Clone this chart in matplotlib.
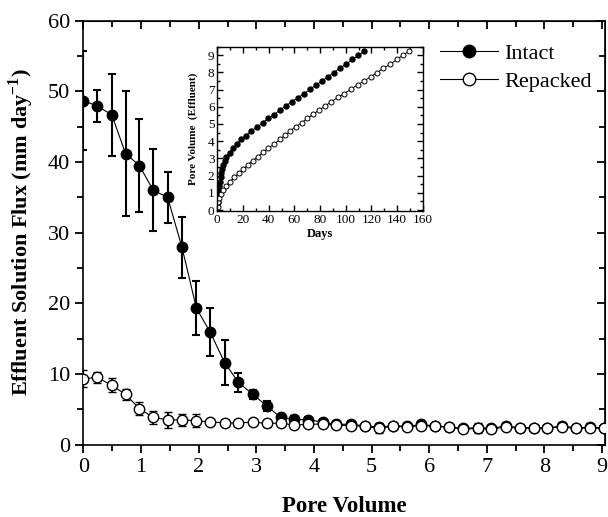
import matplotlib
matplotlib.use("Agg")
import matplotlib.pyplot as plt
from matplotlib.lines import Line2D
from matplotlib.ticker import MultipleLocator

plt.rcParams['font.family'] = ['Liberation Serif', 'DejaVu Serif']
plt.rcParams['mathtext.fontset'] = 'custom'
plt.rcParams['mathtext.rm'] = 'Liberation Serif'
plt.rcParams['mathtext.bf'] = 'Liberation Serif:bold'

# main panel: flux vs pore volume
pore_volume = [0.0, 0.24, 0.49, 0.73, 0.97, 1.21, 1.46, 1.71, 1.96, 2.2, 2.45, 2.69, 2.94,
               3.18, 3.42, 3.66, 3.9, 4.15, 4.39, 4.64, 4.88, 5.13, 5.37, 5.62, 5.86, 6.1,
               6.35, 6.59, 6.84, 7.08, 7.33, 7.57, 7.81, 8.05, 8.3, 8.54, 8.79, 9.03]
intact_flux = [48.7, 47.9, 46.7, 41.2, 39.5, 36.0, 35.0, 27.9, 19.3, 15.9, 11.6, 8.8, 7.1,
               5.5, 3.85, 3.6, 3.5, 3.2, 2.85, 2.9, 2.65, 2.5, 2.65, 2.6, 2.85, 2.65,
               2.5, 2.3, 2.4, 2.3, 2.65, 2.4, 2.4, 2.4, 2.6, 2.4, 2.45, 2.4]
intact_err = [7.0, 2.3, 5.8, 8.9, 6.6, 5.8, 3.6, 4.3, 3.8, 3.4, 3.2, 1.3, 0.7,
              0.7, 0.4, 0.4, 0.4, 0.4, 0.3, 0.4, 0.4, 0.3, 0.3, 0.4, 0.3, 0.4,
              0.3, 0.4, 0.3, 0.3, 0.4, 0.4, 0.4, 0.3, 0.4, 0.4, 0.4, 0.4]
repacked_flux = [9.35, 9.5, 8.4, 7.1, 5.1, 3.85, 3.5, 3.5, 3.4, 3.2, 3.1, 3.05, 3.2,
                 3.0, 3.05, 2.75, 2.9, 2.9, 2.75, 2.7, 2.6, 2.3, 2.6, 2.5, 2.7, 2.6,
                 2.45, 2.2, 2.3, 2.2, 2.5, 2.3, 2.35, 2.35, 2.5, 2.3, 2.35, 2.3]
repacked_err = [1.2, 0.8, 1.0, 0.8, 0.9, 0.9, 1.1, 0.8, 0.9, 0.4, 0.4, 0.4, 0.4,
                0.5, 0.4, 0.3, 0.3, 0.3, 0.3, 0.3, 0.3, 0.7, 0.3, 0.3, 0.3, 0.3,
                0.3, 0.3, 0.7, 0.3, 0.3, 0.3, 0.3, 0.3, 0.3, 0.3, 0.3, 0.3]

# inset: cumulative pore volume vs days
intact_days = [0.0, 0.3, 0.5, 0.8, 1.3, 1.6, 2.1, 2.6, 3.1, 3.9, 4.7, 6.0, 6.8, 9.6, 12.2,
               15.1, 18.4, 22.1, 26.2, 30.6, 35.3, 39.7, 44.4, 48.8, 53.2, 57.9, 62.6,
               67.8, 72.5, 77.1, 81.8, 86.0, 90.9, 95.6, 100.5, 105.2, 109.9, 114.5]
intact_pv = [0.25, 0.45, 0.68, 0.93, 1.16, 1.39, 1.65, 1.9, 2.13, 2.38, 2.61, 2.86, 3.1,
             3.33, 3.58, 3.83, 4.10, 4.32, 4.59, 4.80, 5.07, 5.32, 5.55, 5.81, 6.04, 6.29,
             6.52, 6.77, 7.03, 7.28, 7.51, 7.74, 7.99, 8.26, 8.48, 8.75, 9.0, 9.23]
repacked_days = [0.3, 0.8, 1.6, 2.9, 4.7, 7.0, 9.9, 13.2, 16.6, 20.0, 23.6, 27.5, 31.4,
                 35.6, 39.7, 44.4, 48.6, 52.7, 56.9, 61.0, 65.7, 70.1, 74.8, 79.2, 83.9,
                 88.6, 93.8, 98.9, 104.1, 109.3, 114.3, 119.5, 124.4, 129.3, 134.8,
                 139.7, 144.7, 149.3]
repacked_pv = [0.19, 0.45, 0.68, 0.91, 1.16, 1.39, 1.65, 1.90, 2.13, 2.36, 2.61, 2.86,
               3.10, 3.35, 3.60, 3.83, 4.10, 4.34, 4.59, 4.84, 5.07, 5.32, 5.57, 5.81,
               6.04, 6.29, 6.54, 6.77, 7.03, 7.28, 7.51, 7.74, 7.99, 8.24, 8.48, 8.75,
               9.0, 9.23]

fig = plt.figure(figsize=(6.08, 5.17), dpi=100)
ax = fig.add_axes([0.1373, 0.140, 0.8577, 0.820])

ax.errorbar(pore_volume, intact_flux, yerr=intact_err, color='black', lw=0.8,
            marker='o', ms=7.5, mfc='black', mec='black', elinewidth=1.5,
            capsize=3, capthick=1.5, zorder=3)
ax.errorbar(pore_volume, repacked_flux, yerr=repacked_err, color='black', lw=0.8,
            marker='o', ms=7.5, mfc='white', mec='black', mew=1.0, elinewidth=1.5,
            capsize=3, capthick=1.5, zorder=4)

ax.set_xlim(0, 9.05)
ax.set_ylim(0, 60)
ax.xaxis.set_major_locator(MultipleLocator(1))
ax.xaxis.set_minor_locator(MultipleLocator(0.5))
ax.yaxis.set_major_locator(MultipleLocator(10))
ax.yaxis.set_minor_locator(MultipleLocator(5))
ax.tick_params(which='both', direction='out', width=1.3, labelsize=16, top=False, right=False)
ax.tick_params(which='major', length=6)
ax.tick_params(which='minor', length=4)
for s in ax.spines.values():
    s.set_linewidth(1.2)

# inward ticks on top and right
axt = ax.secondary_xaxis('top')
axt.xaxis.set_major_locator(MultipleLocator(1))
axt.xaxis.set_minor_locator(MultipleLocator(0.5))
axt.tick_params(which='both', direction='in', width=1.3, labeltop=False)
axt.tick_params(which='major', length=6)
axt.tick_params(which='minor', length=4)
axr = ax.secondary_yaxis('right')
axr.yaxis.set_major_locator(MultipleLocator(10))
axr.yaxis.set_minor_locator(MultipleLocator(5))
axr.tick_params(which='both', direction='in', width=1.3, labelright=False)
axr.tick_params(which='major', length=6)
axr.tick_params(which='minor', length=4)

ax.set_xlabel('Pore Volume', fontsize=16.5, fontweight='bold', labelpad=14)
ax.set_ylabel(r'Effluent Solution Flux (mm day$^{\mathbf{-1}}$)', fontsize=16,
              fontweight='bold', labelpad=9)

handles = [Line2D([], [], color='black', lw=0.8, marker='o', ms=9, mfc='black', mec='black'),
           Line2D([], [], color='black', lw=0.8, marker='o', ms=9, mfc='white', mec='black')]
ax.legend(handles, ['Intact', 'Repacked'], loc='upper left', bbox_to_anchor=(0.662, 0.972),
          frameon=False, fontsize=16, handlelength=2.6, handletextpad=0.3,
          labelspacing=0.32, borderpad=0)

# inset
ins = fig.add_axes([0.3574, 0.592, 0.338, 0.318])
ins.plot(intact_days, intact_pv, color='black', lw=0.7, marker='o', ms=3.6,
         mfc='black', mec='black')
ins.plot(repacked_days, repacked_pv, color='black', lw=0.7, marker='o', ms=3.6,
         mfc='white', mec='black', mew=0.7)
ins.set_xlim(0, 160)
ins.set_ylim(-0.05, 9.5)
ins.xaxis.set_major_locator(MultipleLocator(20))
ins.xaxis.set_minor_locator(MultipleLocator(10))
ins.yaxis.set_major_locator(MultipleLocator(1))
ins.yaxis.set_minor_locator(MultipleLocator(0.5))
ins.tick_params(which='both', direction='in', top=True, right=True, width=1.0,
                labelsize=9.5, pad=2)
ins.tick_params(which='major', length=4)
ins.tick_params(which='minor', length=2.5)
for s in ins.spines.values():
    s.set_linewidth(1.0)
ins.set_xlabel('Days', fontsize=9, fontweight='bold', labelpad=2)
ins.set_ylabel('Pore Volume  (Effluent)', fontsize=8, fontweight='bold', labelpad=7)

fig.savefig('out.png', dpi=100)
